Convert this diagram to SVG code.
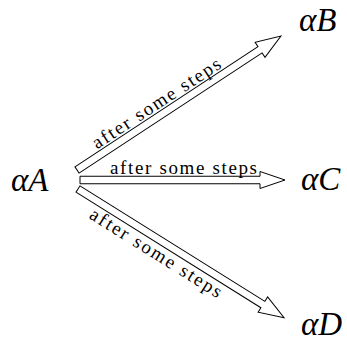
<svg xmlns="http://www.w3.org/2000/svg" width="347" height="343" viewBox="0 0 347 343">
<style>
.node{font-family:"Liberation Serif","DejaVu Serif",serif;font-style:italic;font-size:33px;fill:#000}
.lbl{font-family:"Liberation Serif","DejaVu Serif",serif;font-size:19px;fill:#000}
.arr{fill:#fff;stroke:#000;stroke-width:1;stroke-linejoin:miter}
</style>
<rect width="347" height="343" fill="#fff"/>
<g id="connectors">
<g id="e-A-B" transform="translate(77,170) rotate(-33.3)">
<path class="arr" d="M0,-3.75 L219,-3.75 L219,-9 L244,0 L219,9 L219,3.75 L0,3.75 Z"/>
<text class="lbl" x="28" y="-6" textLength="150" lengthAdjust="spacing">after some steps</text>
</g>
<g id="e-A-C" transform="translate(80,180)">
<path class="arr" d="M0,-3.75 L180,-3.75 L180,-8.5 L205,0 L180,8.5 L180,3.75 L0,3.75 Z"/>
<text class="lbl" x="30" y="-6" textLength="147" lengthAdjust="spacing">after some steps</text>
</g>
<g id="e-A-D" transform="translate(78,189) rotate(32)">
<path class="arr" d="M0,-3.75 L218,-3.75 L218,-9 L243,0 L218,9 L218,3.75 L0,3.75 Z"/>
<text class="lbl" x="24" y="19" textLength="152" lengthAdjust="spacing">after some steps</text>
</g>
</g>
<g id="A"><text class="node" x="11" y="191">αA</text></g>
<g id="B"><text class="node" x="299" y="31">αB</text></g>
<g id="C"><text class="node" x="301" y="190">αC</text></g>
<g id="D"><text class="node" x="301" y="335">αD</text></g>
</svg>
